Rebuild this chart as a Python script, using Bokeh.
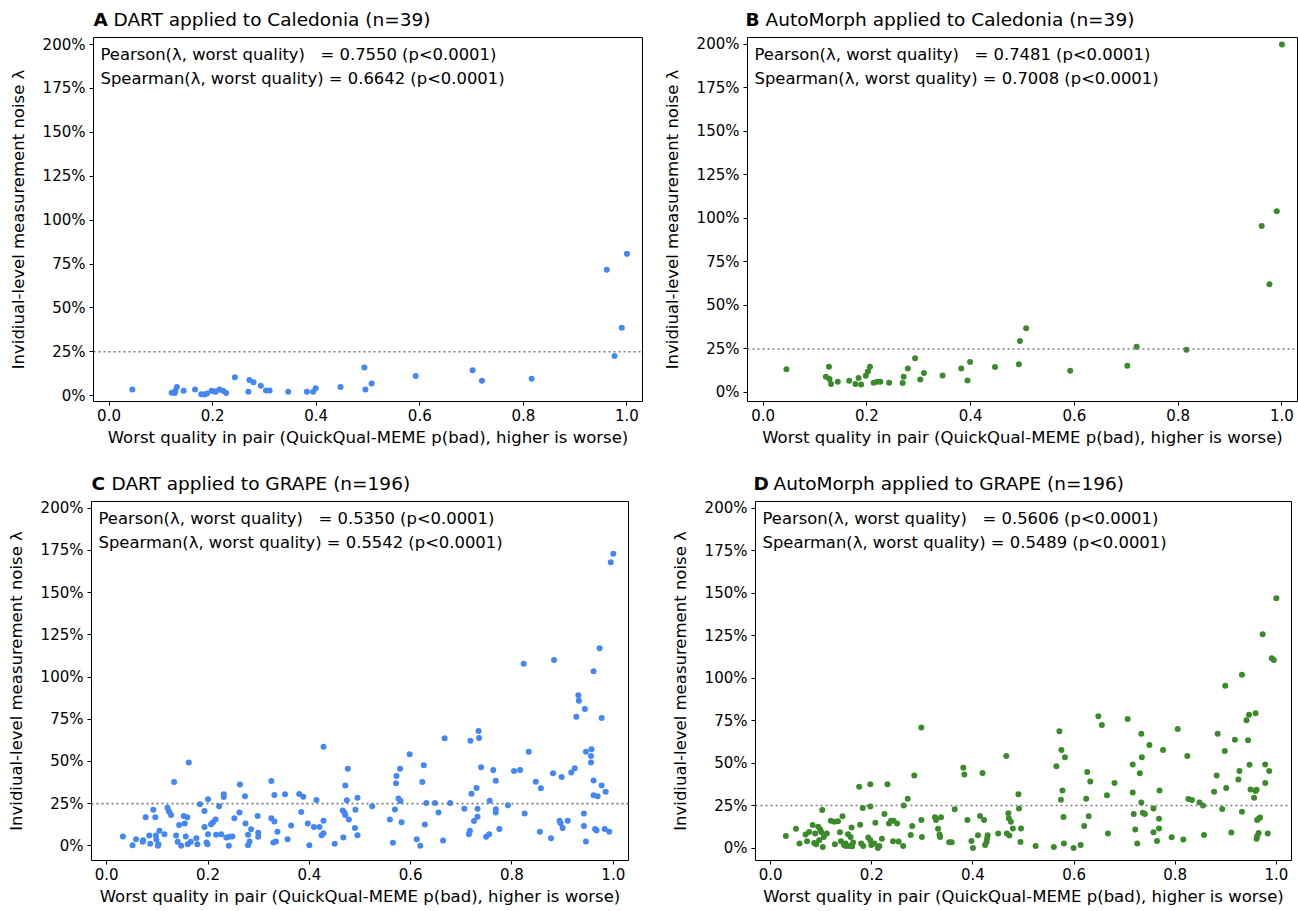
from bokeh.plotting import figure
from bokeh.models import Range1d, FixedTicker, NumeralTickFormatter, Span, Label
from bokeh.core.properties import value
from bokeh.layouts import row, column
from bokeh.embed import file_html
from bokeh.resources import INLINE

FONT = "DejaVu Sans"
BLUE = "#4287f5"
GREEN = "#3b8a2c"
NBSP = "\u00a0"

# ---- Caledonia (n=39): worst quality per pair, shared by both pipelines ----
x_caledonia = [0.045, 0.121, 0.127, 0.128, 0.131, 0.144, 0.166, 0.178, 0.184, 0.189,
               0.198, 0.202, 0.206, 0.213, 0.220, 0.226, 0.243, 0.269, 0.271, 0.279,
               0.293, 0.303, 0.310, 0.346, 0.382, 0.394, 0.399, 0.447, 0.493, 0.495,
               0.507, 0.592, 0.702, 0.720, 0.816, 0.961, 0.976, 0.990, 1.000]
noise_dart_caledonia = [0.035, 0.017, 0.015, 0.028, 0.050, 0.028, 0.035, 0.009, 0.007, 0.013,
                        0.028, 0.025, 0.022, 0.035, 0.028, 0.015, 0.105, 0.022, 0.090, 0.077,
                        0.057, 0.029, 0.029, 0.022, 0.022, 0.022, 0.042, 0.050, 0.160, 0.035,
                        0.070, 0.112, 0.145, 0.085, 0.097, 0.717, 0.226, 0.387, 0.808]
noise_automorph_caledonia = [0.133, 0.090, 0.148, 0.077, 0.048, 0.062, 0.067, 0.048, 0.083, 0.046,
                             0.096, 0.121, 0.148, 0.056, 0.062, 0.062, 0.056, 0.054, 0.090, 0.138,
                             0.196, 0.075, 0.112, 0.098, 0.138, 0.069, 0.175, 0.146, 0.162, 0.296,
                             0.369, 0.125, 0.154, 0.262, 0.246, 0.957, 0.622, 1.041, 2.000]

# ---- GRAPE (n=196), DART ----
x_dart_grape = [
    0.032, 0.051, 0.058, 0.071, 0.072, 0.077, 0.084, 0.086, 0.092, 0.096, 0.097, 0.098, 0.101, 0.102,
    0.104, 0.114, 0.120, 0.123, 0.127, 0.133, 0.137, 0.140, 0.143, 0.147, 0.152, 0.154, 0.156, 0.159,
    0.160, 0.162, 0.166, 0.177, 0.179, 0.184, 0.193, 0.193, 0.197, 0.199, 0.200, 0.200, 0.206, 0.210,
    0.215, 0.216, 0.222, 0.226, 0.231, 0.231, 0.236, 0.241, 0.242, 0.248, 0.252, 0.262, 0.263, 0.273,
    0.274, 0.279, 0.279, 0.282, 0.285, 0.298, 0.299, 0.299, 0.325, 0.325, 0.329, 0.331, 0.331, 0.337,
    0.334, 0.352, 0.357, 0.364, 0.380, 0.384, 0.388, 0.397, 0.400, 0.409, 0.414, 0.420, 0.424, 0.428,
    0.428, 0.428, 0.450, 0.466, 0.467, 0.469, 0.471, 0.471, 0.476, 0.474, 0.478, 0.490, 0.491, 0.495,
    0.495, 0.524, 0.559, 0.565, 0.569, 0.571, 0.572, 0.579, 0.576, 0.580, 0.582, 0.598, 0.612, 0.619,
    0.623, 0.626, 0.628, 0.631, 0.648, 0.655, 0.664, 0.667, 0.678, 0.706, 0.715, 0.717, 0.718, 0.720,
    0.725, 0.730, 0.732, 0.732, 0.734, 0.735, 0.739, 0.749, 0.755, 0.756, 0.763, 0.768, 0.768, 0.768,
    0.775, 0.792, 0.804, 0.816, 0.823, 0.825, 0.833, 0.847, 0.855, 0.857, 0.877, 0.881, 0.883, 0.894,
    0.896, 0.900, 0.898, 0.910, 0.917, 0.924, 0.927, 0.931, 0.932, 0.942, 0.942, 0.944, 0.946, 0.946,
    0.957, 0.956, 0.956, 0.961, 0.961, 0.961, 0.964, 0.967, 0.969, 0.973, 0.977, 0.977, 0.983, 0.985,
    0.992, 0.995, 1.000]
noise_dart_grape = [
    0.055, 0.004, 0.039, 0.024, 0.033, 0.169, 0.061, 0.012, 0.213, 0.169, 0.061, 0.037, 0.000, 0.010,
    0.089, 0.069, 0.226, 0.203, 0.183, 0.378, 0.061, 0.024, 0.124, 0.000, 0.177, 0.132, 0.055, 0.169,
    0.010, 0.494, 0.024, 0.045, 0.010, 0.246, 0.207, 0.112, 0.020, 0.010, 0.276, 0.069, 0.128, 0.140,
    0.156, 0.065, 0.234, 0.069, 0.305, 0.289, 0.049, 0.000, 0.053, 0.055, 0.163, 0.197, 0.364, 0.293,
    0.132, 0.065, 0.004, 0.026, 0.098, 0.177, 0.077, 0.053, 0.163, 0.384, 0.020, 0.301, 0.144, 0.083,
    0.026, 0.305, 0.039, 0.120, 0.307, 0.201, 0.291, 0.132, 0.004, 0.112, 0.272, 0.112, 0.063, 0.587,
    0.148, 0.075, 0.012, 0.209, 0.049, 0.197, 0.358, 0.183, 0.457, 0.270, 0.156, 0.106, 0.213, 0.285,
    0.063, 0.234, 0.156, 0.018, 0.215, 0.370, 0.413, 0.457, 0.280, 0.266, 0.140, 0.543, 0.039, 0.000,
    0.378, 0.478, 0.126, 0.254, 0.254, 0.197, 0.031, 0.638, 0.254, 0.219, 0.069, 0.089, 0.623, 0.308,
    0.147, 0.343, 0.172, 0.219, 0.681, 0.639, 0.466, 0.054, 0.069, 0.267, 0.449, 0.385, 0.217, 0.197,
    0.099, 0.240, 0.443, 0.449, 1.079, 0.191, 0.558, 0.379, 0.083, 0.341, 0.045, 0.430, 1.101, 0.149,
    0.134, 0.105, 0.408, 0.149, 0.434, 0.460, 0.765, 0.892, 0.860, 0.191, 0.118, 0.810, 0.025, 0.558,
    0.572, 0.532, 0.493, 1.035, 0.387, 0.300, 0.099, 0.091, 0.294, 1.170, 0.358, 0.757, 0.099, 0.321,
    0.083, 1.680, 1.730]

# ---- GRAPE (n=196), AutoMorph ----
x_automorph_grape = [
    0.030, 0.050, 0.057, 0.069, 0.072, 0.076, 0.083, 0.086, 0.088, 0.090, 0.094, 0.096, 0.098, 0.100,
    0.103, 0.102, 0.105, 0.111, 0.119, 0.126, 0.127, 0.133, 0.137, 0.142, 0.139, 0.145, 0.148, 0.149,
    0.153, 0.156, 0.158, 0.160, 0.163, 0.161, 0.175, 0.177, 0.179, 0.182, 0.183, 0.193, 0.197, 0.197,
    0.197, 0.199, 0.207, 0.205, 0.212, 0.215, 0.220, 0.225, 0.231, 0.234, 0.238, 0.242, 0.243, 0.250,
    0.253, 0.262, 0.263, 0.271, 0.277, 0.280, 0.284, 0.298, 0.298, 0.299,
    0.325, 0.327, 0.331, 0.334, 0.335, 0.337, 0.353, 0.358, 0.364, 0.381, 0.383, 0.389, 0.397, 0.400,
    0.410, 0.414, 0.419, 0.422, 0.424, 0.427, 0.428, 0.429, 0.450, 0.466, 0.467, 0.470, 0.472, 0.471,
    0.475, 0.479, 0.490, 0.491, 0.494, 0.495, 0.524, 0.560, 0.565, 0.571, 0.575, 0.577, 0.579, 0.580,
    0.582, 0.574, 0.599, 0.613, 0.620, 0.624, 0.626, 0.629, 0.632, 0.648, 0.655, 0.665, 0.667,
    0.680, 0.706, 0.716, 0.716, 0.718, 0.721, 0.725, 0.730, 0.733, 0.733, 0.734, 0.736, 0.740, 0.749,
    0.757, 0.757, 0.764, 0.768, 0.768, 0.769, 0.776, 0.793, 0.805, 0.816, 0.824, 0.826, 0.833, 0.848,
    0.855, 0.857, 0.877, 0.882, 0.884, 0.893, 0.898, 0.899, 0.901, 0.911, 0.918, 0.925, 0.927, 0.932,
    0.932, 0.941, 0.944, 0.946, 0.947, 0.949, 0.956, 0.959, 0.959, 0.961, 0.962, 0.965, 0.968, 0.961,
    0.962, 0.965, 0.973, 0.978, 0.978, 0.983, 0.986, 0.991, 0.995, 1.000]
noise_automorph_grape = [
    0.071, 0.113, 0.026, 0.079, 0.040, 0.095, 0.135, 0.030, 0.085, 0.022, 0.125, 0.046, 0.109, 0.095,
    0.006, 0.224, 0.065, 0.085, 0.161, 0.155, 0.022, 0.157, 0.093, 0.187, 0.040, 0.018, 0.026, 0.012,
    0.081, 0.012, 0.065, 0.121, 0.032, 0.010, 0.361, 0.137, 0.026, 0.236, 0.012, 0.062, 0.244, 0.375,
    0.046, 0.018, 0.149, 0.026, 0.000, 0.012, 0.054, 0.200, 0.375, 0.145, 0.161, 0.040, 0.161, 0.145,
    0.038, 0.012, 0.250, 0.290, 0.077, 0.129, 0.427, 0.165, 0.710, 0.065,
    0.181, 0.165, 0.113, 0.079, 0.065, 0.181, 0.034, 0.034, 0.228, 0.472, 0.433, 0.165, 0.042, 0.000,
    0.075, 0.188, 0.442, 0.165, 0.018, 0.036, 0.056, 0.075, 0.085, 0.542, 0.085, 0.204, 0.073, 0.175,
    0.155, 0.115, 0.317, 0.232, 0.036, 0.115, 0.012, 0.006, 0.482, 0.687, 0.577, 0.339, 0.183, 0.026,
    0.534, 0.284, 0.000, 0.018, 0.129, 0.290, 0.448, 0.187, 0.391, 0.776, 0.724, 0.310, 0.085,
    0.383, 0.760, 0.492, 0.327, 0.200, 0.109, 0.026, 0.440, 0.673, 0.268, 0.534, 0.208, 0.200, 0.607,
    0.232, 0.093, 0.042, 0.173, 0.115, 0.339, 0.577, 0.063, 0.700, 0.050, 0.542, 0.288, 0.282, 0.268,
    0.250, 0.077, 0.331, 0.427, 0.673, 0.230, 0.571, 0.956, 0.353, 0.091, 0.637, 0.403, 0.454, 1.020,
    0.214, 0.752, 0.635, 0.784, 0.490, 0.345, 0.296, 0.794, 0.335, 0.343, 0.165, 0.173, 0.179, 0.054,
    0.069, 0.089, 1.258, 0.383, 0.492, 0.085, 0.454, 1.117, 1.107, 1.470]

x_ticks = [0.0, 0.2, 0.4, 0.6, 0.8, 1.0]
y_ticks = [0.0, 0.25, 0.5, 0.75, 1.0, 1.25, 1.5, 1.75, 2.0]
noise_threshold = 0.25

X_LABEL = "Worst quality in pair (QuickQual-MEME p(bad), higher is worse)"
Y_LABEL = "Invidiual-level measurement noise λ"
Y_TOP = 2.04
X_LO, X_HI = -0.03, 1.03

TICK_PX = "15px"
LABEL_PX = "16.5px"
NOTE_PX = "16.4px"
TITLE_PX = "18.5px"


def header(width, height, text_x, text_y, letter, title):
    """Strip above a panel holding its bold letter and title."""
    h = figure(width=width, height=height, output_backend="svg", toolbar_location=None,
               x_range=Range1d(0, width), y_range=Range1d(0, height),
               x_axis_location=None, y_axis_location=None, min_border=0,
               outline_line_color=None, background_fill_color="white",
               border_fill_color="white")
    h.grid.visible = False
    h.text(x=[text_x], y=[text_y], text=[letter], text_font=value(FONT),
           text_font_size=value(TITLE_PX), text_font_style="bold",
           text_baseline="middle", text_align="left", text_color="black")
    h.text(x=[text_x + 20], y=[text_y], text=[title], text_font=value(FONT),
           text_font_size=value(TITLE_PX), text_baseline="middle",
           text_align="left", text_color="black")
    return h


def panel(width, height, borders, y_low, xs, ys, color, pearson, spearman):
    left, right, top, bottom = borders
    p = figure(width=width, height=height, output_backend="svg", toolbar_location=None,
               x_range=Range1d(X_LO, X_HI), y_range=Range1d(y_low, Y_TOP),
               min_border_left=left, min_border_right=right,
               min_border_top=top, min_border_bottom=bottom,
               background_fill_color="white", border_fill_color="white")
    p.grid.visible = False
    p.outline_line_color = "black"
    p.outline_line_width = 1
    p.outline_line_alpha = 1.0

    for ax in (p.xaxis[0], p.yaxis[0]):
        ax.axis_line_color = None
        ax.major_tick_line_color = "black"
        ax.major_tick_out = 4
        ax.major_tick_in = 0
        ax.minor_tick_line_color = None
        ax.major_label_text_font = FONT
        ax.major_label_text_font_size = TICK_PX
        ax.major_label_text_color = "black"
        ax.axis_label_text_font = FONT
        ax.axis_label_text_font_size = LABEL_PX
        ax.axis_label_text_font_style = "normal"
        ax.axis_label_text_color = "black"

    p.xaxis.ticker = FixedTicker(ticks=x_ticks)
    p.xaxis.formatter = NumeralTickFormatter(format="0.0")
    p.xaxis.major_label_standoff = 3
    p.xaxis.axis_label = X_LABEL
    p.xaxis.axis_label_standoff = 4

    p.yaxis.ticker = FixedTicker(ticks=y_ticks)
    p.yaxis.formatter = NumeralTickFormatter(format="0%")
    p.yaxis.major_label_standoff = 4
    p.yaxis.axis_label = Y_LABEL
    p.yaxis.axis_label_standoff = 12

    p.add_layout(Span(location=noise_threshold, dimension="width", line_color="#7a7a7a",
                      line_dash="2 3", line_width=1.6))

    p.scatter(xs, ys, size=6, fill_color=color, line_color=None)

    # correlation summary in the upper-left corner
    pad = NBSP * 3
    p.add_layout(Label(x=X_LO, y=Y_TOP, x_offset=7, y_offset=-17,
                       text=f"Pearson(λ, worst quality){pad}= {pearson} (p<0.0001)",
                       text_font=FONT, text_font_size=NOTE_PX,
                       text_baseline="middle", text_color="black"))
    p.add_layout(Label(x=X_LO, y=Y_TOP, x_offset=7, y_offset=-41,
                       text=f"Spearman(λ, worst quality) = {spearman} (p<0.0001)",
                       text_font=FONT, text_font_size=NOTE_PX,
                       text_baseline="middle", text_color="black"))
    return p


hA = header(650, 30, 93, 11, "A", "DART applied to Caledonia (n=39)")
hB = header(648, 30, 95, 11, "B", "AutoMorph applied to Caledonia (n=39)")
pA = panel(650, 425, (93, 8, 6, 54), -0.033,
           x_caledonia, noise_dart_caledonia, BLUE, "0.7550", "0.6642")
pB = panel(648, 425, (97, 1, 7, 53), -0.052,
           x_caledonia, noise_automorph_caledonia, GREEN, "0.7481", "0.7008")

hC = header(650, 40, 91, 12, "C", "DART applied to GRAPE (n=196)")
hD = header(648, 40, 103, 12, "D", "AutoMorph applied to GRAPE (n=196)")
pC = panel(650, 416, (91, 22, 5, 51), -0.087,
           x_dart_grape, noise_dart_grape, BLUE, "0.5350", "0.5542")
pD = panel(648, 416, (105, 7, 6, 51), -0.0735,
           x_automorph_grape, noise_automorph_grape, GREEN, "0.5606", "0.5489")

layout = column(row(hA, hB), row(pA, pB), row(hC, hD), row(pC, pD))

open("out.html", "w").write(file_html(layout, INLINE))
